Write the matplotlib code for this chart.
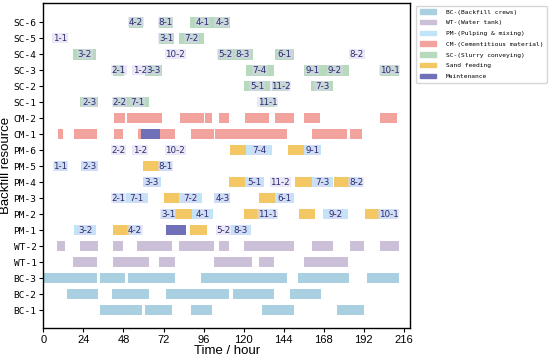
#!/usr/bin/env python3

import matplotlib
matplotlib.use('Agg')
import matplotlib.pyplot as plt
from matplotlib.patches import Patch

# resource rows, bottom to top
rows = ['BC-1', 'BC-2', 'BC-3', 'WT-1', 'WT-2',
        'PM-1', 'PM-2', 'PM-3', 'PM-4', 'PM-5', 'PM-6',
        'CM-1', 'CM-2',
        'SC-1', 'SC-2', 'SC-3', 'SC-4', 'SC-5', 'SC-6']

# (row, start, end)
bc_bars = [('BC-1', 34, 59), ('BC-1', 61, 77), ('BC-1', 88.5, 101), ('BC-1', 131, 150), ('BC-1', 176, 192),
           ('BC-2', 14, 33), ('BC-2', 41, 63), ('BC-2', 73.5, 111), ('BC-2', 113.5, 138.5), ('BC-2', 148, 166.5),
           ('BC-3', 0, 32), ('BC-3', 34, 49), ('BC-3', 51, 79), ('BC-3', 94.5, 146), ('BC-3', 152.5, 183),
           ('BC-3', 194, 213)]

wt_bars = [('WT-1', 18, 32), ('WT-1', 42, 63), ('WT-1', 69.5, 79), ('WT-1', 102, 125), ('WT-1', 129.5, 138.5),
           ('WT-1', 156, 182.5),
           ('WT-2', 8, 13), ('WT-2', 22, 33), ('WT-2', 42, 48), ('WT-2', 56, 77), ('WT-2', 81, 102),
           ('WT-2', 105, 111), ('WT-2', 120.5, 150), ('WT-2', 161, 173.5), ('WT-2', 184, 192), ('WT-2', 202, 213)]

cm_bars = [('CM-1', 8.5, 12), ('CM-1', 18.5, 32), ('CM-1', 42.5, 47.5), ('CM-1', 56.5, 58.5), ('CM-1', 70, 79),
           ('CM-1', 88.5, 102), ('CM-1', 103, 146), ('CM-1', 161, 182), ('CM-1', 184, 191),
           ('CM-2', 42.5, 49), ('CM-2', 50, 71), ('CM-2', 82, 96), ('CM-2', 97, 101), ('CM-2', 105, 111),
           ('CM-2', 121, 135), ('CM-2', 139, 150), ('CM-2', 156, 166), ('CM-2', 202, 212)]

maint_bars = [('CM-1', 58.5, 70), ('PM-1', 73.5, 85.5)]

sand_bars = [('PM-1', 41.5, 51.5), ('PM-1', 88, 98),
             ('PM-2', 79, 89), ('PM-2', 120, 130), ('PM-2', 153.5, 163), ('PM-2', 193, 202),
             ('PM-3', 72, 81), ('PM-3', 129.5, 139),
             ('PM-4', 111, 121), ('PM-4', 151, 161), ('PM-4', 174.5, 184),
             ('PM-5', 59.5, 69.5),
             ('PM-6', 112, 121.5), ('PM-6', 146.5, 156)]

# (row, start, end, task)
pm_bars = [('PM-1', 18.5, 31.5, '3-2'), ('PM-1', 51.5, 58.5, '4-2'), ('PM-1', 112.5, 124.5, '8-3'),
           ('PM-2', 70.5, 79, '3-1'), ('PM-2', 89, 101.5, '4-1'), ('PM-2', 130, 139, '11-1'),
           ('PM-2', 167.5, 182.5, '9-2'), ('PM-2', 202, 212, '10-1'),
           ('PM-3', 41.5, 48.5, '2-1'), ('PM-3', 49.5, 62.5, '7-1'), ('PM-3', 81, 95, '7-2'),
           ('PM-3', 102.5, 112, '4-3'), ('PM-3', 139, 150, '6-1'),
           ('PM-4', 59.5, 70.5, '3-3'), ('PM-4', 121, 132, '5-1'), ('PM-4', 161, 173.5, '7-3'),
           ('PM-4', 184, 191, '8-2'),
           ('PM-5', 6.5, 14, '1-1'), ('PM-5', 22.5, 32.5, '2-3'), ('PM-5', 69.5, 77, '8-1'),
           ('PM-6', 121.5, 137, '7-4'), ('PM-6', 156, 166.5, '9-1')]

sc_bars = [('SC-1', 22, 33, '2-3'), ('SC-1', 41.5, 49.5, '2-2'), ('SC-1', 49.5, 63.5, '7-1'), ('SC-1', 130, 139, '11-1'),
           ('SC-2', 120.5, 136, '5-1'), ('SC-2', 137, 147.5, '11-2'), ('SC-2', 160.5, 173.5, '7-3'),
           ('SC-3', 42, 48.5, '2-1'), ('SC-3', 61, 71, '3-3'), ('SC-3', 121.5, 138, '7-4'),
           ('SC-3', 156, 166.5, '9-1'), ('SC-3', 166.5, 183, '9-2'), ('SC-3', 202, 213, '10-1'),
           ('SC-4', 18, 31.5, '3-2'), ('SC-4', 104.5, 113.5, '5-2'), ('SC-4', 113.5, 125.5, '8-3'),
           ('SC-4', 139, 150.5, '6-1'),
           ('SC-5', 69, 78, '3-1'), ('SC-5', 81, 96.5, '7-2'),
           ('SC-6', 51.5, 59.5, '4-2'), ('SC-6', 69, 77.5, '8-1'), ('SC-6', 88, 102.5, '4-1'), ('SC-6', 102.5, 112, '4-3')]

# short tasks: only the tag is visible (row, centre, task)
tags_only = [('PM-1', 108, '5-2'), ('PM-4', 142, '11-2'),
             ('PM-6', 45, '2-2'), ('PM-6', 58, '1-2'), ('PM-6', 79, '10-2'),
             ('SC-3', 58, '1-2'), ('SC-4', 79, '10-2'), ('SC-4', 188, '8-2'), ('SC-5', 10, '1-1')]

colors = {'BC': '#a9cfe0', 'WT': '#cbc0d8', 'PM': '#c2e4f8', 'CM': '#f2a39d',
          'SC': '#b6dabb', 'sand': '#f2c764', 'maint': '#7070b8'}
legend_names = ['BC-(Backfill crews)', 'WT-(Water tank)', 'PM-(Pulping & mixing)',
                'CM-(Cementitious material)', 'SC-(Slurry conveying)', 'Sand feeding', 'Maintenance']

H = 0.68
TXT = '#2b2b72'


def draw(ax, bars, color):
    for b in bars:
        y = rows.index(b[0])
        ax.barh(y, b[2] - b[1], left=b[1], height=H, color=color, edgecolor='none')


def tag(ax, y, x, s):
    ax.text(x, y, s, ha='center', va='center', fontsize=6.3, color=TXT,
            bbox=dict(boxstyle='square,pad=0.08', fc='#d9d6f2', ec='none', alpha=0.55))


fig = plt.figure(figsize=(5.5, 3.6), dpi=100)
ax = fig.add_axes([0.079, 0.09, 0.667, 0.902])

draw(ax, bc_bars, colors['BC'])
draw(ax, wt_bars, colors['WT'])
draw(ax, cm_bars, colors['CM'])
draw(ax, sand_bars, colors['sand'])
draw(ax, maint_bars, colors['maint'])
draw(ax, pm_bars, colors['PM'])
draw(ax, sc_bars, colors['SC'])

for b in pm_bars + sc_bars:
    tag(ax, rows.index(b[0]), (b[1] + b[2]) / 2, b[3])
for r, x, s in tags_only:
    tag(ax, rows.index(r), x, s)

ax.set_xlim(0, 220)
ax.set_ylim(-1.1, 19.2)
ax.set_xticks(range(0, 217, 24))
ax.set_yticks(range(len(rows)))
ax.set_yticklabels(rows, family='DejaVu Sans Mono', fontsize=6.8)
for lab in ax.get_xticklabels():
    lab.set_family('Liberation Sans')
    lab.set_fontsize(8)
ax.tick_params(length=3, width=0.8, pad=2)
ax.set_xlabel('Time / hour', family='Liberation Sans', fontsize=9.5, labelpad=0)
ax.set_ylabel('Backfill resource', family='Liberation Sans', fontsize=9.5, labelpad=1)
for sp in ax.spines.values():
    sp.set_linewidth(1.0)

handles = [Patch(color=colors[k]) for k in ['BC', 'WT', 'PM', 'CM', 'SC', 'sand', 'maint']]
fig.legend(handles, legend_names, loc='upper left', bbox_to_anchor=(0.751, 0.993),
           prop={'family': 'DejaVu Sans Mono', 'size': 4.5}, labelspacing=0.85,
           handlelength=2.6, handleheight=0.7, handletextpad=1.6, borderpad=0.6,
           frameon=True, edgecolor='#cccccc', fancybox=True)

fig.savefig('out.png', dpi=100)
